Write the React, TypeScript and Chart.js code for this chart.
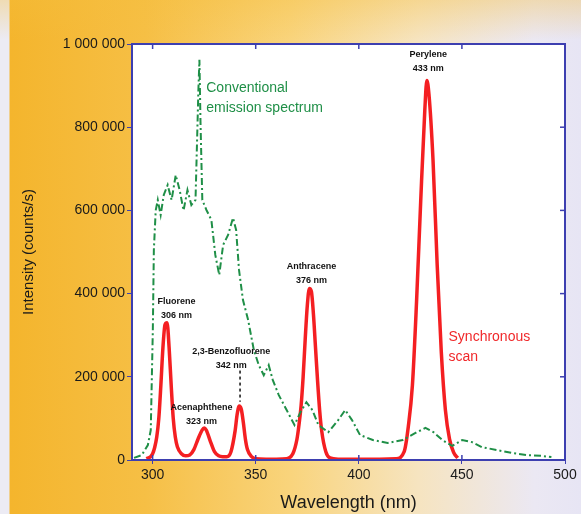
import React, { useEffect, useRef } from "react";
import { Chart, registerables } from "chart.js";

Chart.register(...registerables);

// Conventional emission spectrum (green, dash-dot)
const convWavelengths = [291, 294.8, 297.7, 299.1, 300.1, 300.6, 301.5, 302.5, 303.9, 305.4, 307.3, 309.2, 311.2, 313.1, 315, 316.9, 318.8, 320.8, 322.2, 322.7, 323.2, 324.1, 326.1, 328.5, 330.4, 332.3, 334.2, 336.6, 339, 340.5, 341.9, 343.8, 346.3, 349.1, 351.5, 353.9, 356.3, 358.3, 361.2, 365, 368.8, 371.7, 374.6, 377.5, 380.4, 385.2, 390, 393.4, 396.7, 400.6, 406.8, 414, 421.3, 427.5, 432.3, 436.2, 440.5, 445.3, 450.1, 454.9, 459.7, 466.9, 474.1, 481.3, 488.6, 493.4];
const convIntensity = [5000, 12000, 36000, 72000, 312000, 505000, 600000, 625000, 589000, 637000, 661000, 625000, 685000, 649000, 600000, 649000, 613000, 625000, 889000, 962000, 817000, 625000, 601000, 577000, 493000, 445000, 517000, 541000, 582000, 553000, 457000, 385000, 337000, 264000, 228000, 204000, 228000, 192000, 156000, 120000, 84000, 115000, 139000, 120000, 84000, 67000, 96000, 120000, 96000, 60000, 48000, 41000, 48000, 65000, 77000, 67000, 48000, 34000, 48000, 43000, 31000, 24000, 17000, 12000, 10000, 7000];

// Synchronous scan (red)
const syncWavelengths = [297, 299, 300, 301, 302, 303, 304, 305, 306, 307, 308, 309, 310, 311, 312, 314, 316, 318, 320, 322, 324, 325, 326, 328, 330, 332, 334, 336, 338, 340, 341, 342, 343, 344, 345, 346, 348, 350, 355, 360, 365, 368, 370, 371, 372, 373, 374, 375, 376, 377, 378, 379, 380, 381, 382, 384, 386, 390, 400, 410, 418, 422, 424, 426, 428, 430, 432, 433, 434, 436, 438, 440, 442, 444, 446, 448];
const syncIntensity = [3000, 8000, 15000, 30000, 55000, 100000, 180000, 270000, 325000, 330000, 270000, 180000, 100000, 55000, 32000, 15000, 10000, 12000, 25000, 50000, 72000, 77000, 72000, 45000, 20000, 10000, 8000, 8000, 20000, 70000, 110000, 130000, 122000, 90000, 50000, 25000, 8000, 3000, 2000, 2000, 3000, 15000, 50000, 85000, 130000, 200000, 290000, 370000, 412000, 405000, 350000, 270000, 190000, 120000, 70000, 20000, 5000, 2000, 2000, 2000, 3000, 20000, 80000, 180000, 380000, 620000, 840000, 912000, 880000, 720000, 470000, 260000, 120000, 50000, 18000, 5000];

const xTicks = [300, 350, 400, 450, 500];
const yTicks = [0, 200000, 400000, 600000, 800000, 1000000];

const peakLabels = [
  { lines: ["Fluorene", "306 nm"], x: 311.6, y: 380000 },
  { lines: ["Acenaphthene", "323 nm"], x: 323.7, y: 125000 },
  { lines: ["2,3-Benzofluorene", "342 nm"], x: 338.1, y: 260000 },
  { lines: ["Anthracene", "376 nm"], x: 377, y: 464000 },
  { lines: ["Perylene", "433 nm"], x: 433.7, y: 974000 },
];
const seriesLabels = [
  { lines: ["Conventional", "emission spectrum"], x: 326, y: 894000, color: "#1f8f47" },
  { lines: ["Synchronous", "scan"], x: 443.5, y: 296000, color: "#f0282a" },
];

const fmt = (v: number) => String(v).replace(/\B(?=(\d{3})+(?!\d))/g, " ");

const BORDER = "#3d3fb0";

const framePlugin = {
  id: "frame",
  beforeDraw(chart: any) {
    const { ctx, chartArea: a } = chart;
    ctx.save();
    ctx.fillStyle = "#ffffff";
    ctx.fillRect(a.left, a.top, a.right - a.left, a.bottom - a.top);
    ctx.restore();
  },
  afterDraw(chart: any) {
    const { ctx, chartArea: a, scales } = chart;
    ctx.save();
    ctx.strokeStyle = BORDER;
    ctx.lineWidth = 2;
    ctx.strokeRect(a.left, a.top, a.right - a.left, a.bottom - a.top);
    // mirror ticks
    ctx.lineWidth = 1.5;
    xTicks.forEach((t) => {
      const px = scales.x.getPixelForValue(t);
      ctx.beginPath();
      ctx.moveTo(px, a.top);
      ctx.lineTo(px, a.top + 5);
      ctx.moveTo(px, a.bottom);
      ctx.lineTo(px, a.bottom - 5);
      ctx.stroke();
    });
    yTicks.forEach((t) => {
      const py = scales.y.getPixelForValue(t);
      ctx.beginPath();
      ctx.moveTo(a.right, py);
      ctx.lineTo(a.right - 5, py);
      ctx.stroke();
    });

    // peak labels
    ctx.fillStyle = "#111";
    ctx.textAlign = "center";
    ctx.textBaseline = "middle";
    ctx.font = "bold 9px 'Liberation Sans Narrow', Arial, sans-serif";
    peakLabels.forEach((l) => {
      const px = scales.x.getPixelForValue(l.x);
      const py = scales.y.getPixelForValue(l.y);
      l.lines.forEach((s, i) => ctx.fillText(s, px, py + i * 14));
    });
    // dashed pointer to the third peak
    const p3x = scales.x.getPixelForValue(342.4);
    ctx.strokeStyle = "#111";
    ctx.lineWidth = 1.5;
    ctx.setLineDash([3, 3]);
    ctx.beginPath();
    ctx.moveTo(p3x, scales.y.getPixelForValue(215000));
    ctx.lineTo(p3x, scales.y.getPixelForValue(140000));
    ctx.stroke();
    ctx.setLineDash([]);

    // series labels
    ctx.textAlign = "left";
    ctx.font = "14px Arial, sans-serif";
    seriesLabels.forEach((l) => {
      ctx.fillStyle = l.color;
      const px = scales.x.getPixelForValue(l.x);
      const py = scales.y.getPixelForValue(l.y);
      l.lines.forEach((s, i) => ctx.fillText(s, px, py + i * 20));
    });
    ctx.restore();
  },
};

export default function App() {
  const ref = useRef<HTMLCanvasElement | null>(null);
  useEffect(() => {
    if (!ref.current) return;
    const chart = new Chart(ref.current, {
      type: "line",
      data: {
        datasets: [
          {
            label: "Conventional emission spectrum",
            data: convWavelengths.map((x, i) => ({ x, y: convIntensity[i] })),
            borderColor: "#1f8f47",
            borderWidth: 2,
            borderDash: [7, 3, 2, 3],
            pointRadius: 0,
            tension: 0,
            fill: false,
          },
          {
            label: "Synchronous scan",
            data: syncWavelengths.map((x, i) => ({ x, y: syncIntensity[i] })),
            borderColor: "#f41f22",
            borderWidth: 3.5,
            pointRadius: 0,
            cubicInterpolationMode: "monotone",
            fill: false,
          },
        ],
      },
      options: {
        responsive: false,
        animation: false,
        layout: { padding: { left: 10, top: 44, right: 16, bottom: 0 } },
        plugins: { legend: { display: false }, tooltip: { enabled: false } },
        scales: {
          x: {
            type: "linear",
            min: 290,
            max: 500,
            afterBuildTicks: (s: any) => {
              s.ticks = xTicks.map((v) => ({ value: v }));
            },
            afterFit: (s: any) => {
              s.height = 54;
            },
            grid: { display: true, drawOnChartArea: false, drawTicks: true, tickLength: 4, color: BORDER },
            border: { display: false },
            ticks: { color: "#1a1a1a", font: { family: "Arial", size: 14 }, padding: 3, maxRotation: 0 },
            title: {
              display: true,
              text: "Wavelength (nm)",
              color: "#1a1a1a",
              font: { family: "Arial", size: 18 },
              padding: { top: 2, bottom: 0 },
            },
          },
          y: {
            type: "linear",
            min: 0,
            max: 1000000,
            afterBuildTicks: (s: any) => {
              s.ticks = yTicks.map((v) => ({ value: v }));
            },
            afterFit: (s: any) => {
              s.width = 122;
            },
            grid: { display: true, drawOnChartArea: false, drawTicks: true, tickLength: 5, color: BORDER },
            border: { display: false },
            ticks: { color: "#1a1a1a", font: { family: "Arial", size: 14 }, padding: 2, callback: (v: any) => fmt(Number(v)) },
            title: {
              display: true,
              text: "Intensity (counts/s)",
              color: "#1a1a1a",
              font: { family: "Arial", size: 15 },
              padding: { top: 10, bottom: 4 },
            },
          },
        },
      },
      plugins: [framePlugin],
    } as any);
    return () => chart.destroy();
  }, []);

  return (
    <div
      style={{
        position: "fixed",
        left: 0,
        top: 0,
        width: 581,
        height: 514,
        background:
          "linear-gradient(to bottom, rgba(245,190,60,0.35) 0px, rgba(245,190,60,0) 40px), linear-gradient(to right, #ecebf4 0px, #ecebf4 9px, #f4b52d 10px, #f6bf45 25%, #f9d47c 50%, #f6e4c0 72%, #ebe8f3 92%, #e7e5f4 100%)",
      }}
    >
      <canvas ref={ref} width={581} height={514} style={{ display: "block" }} />
    </div>
  );
}
